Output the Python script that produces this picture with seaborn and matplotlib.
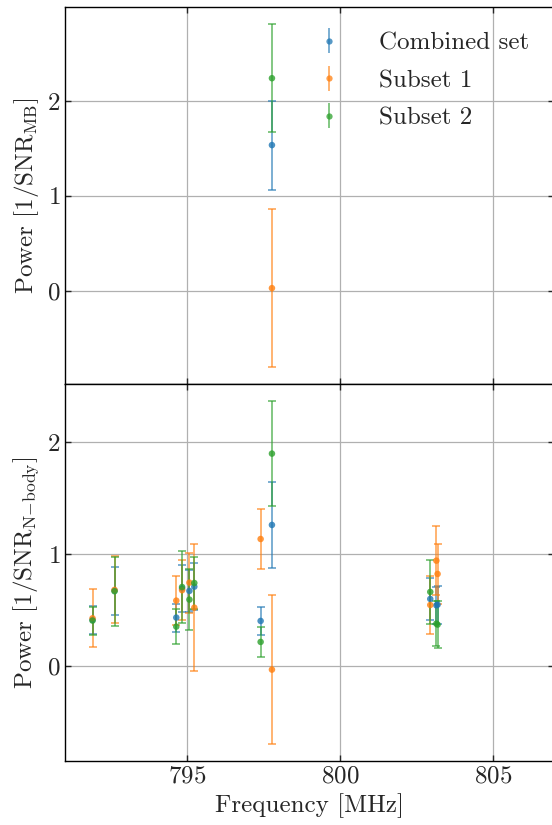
import numpy as np
import pandas as pd
import matplotlib
matplotlib.use("Agg")
import matplotlib.pyplot as plt
import seaborn as sns

# series names and colours
series = ['Combined set', 'Subset 1', 'Subset 2']
colors = sns.color_palette('tab10', 3)

# top panel: MB template (one frequency)
freq_mb = [797.77]
mb_combined = [1.535]
mb_combined_err = [0.47]
mb_sub1 = [0.027]
mb_sub1_err = [0.83]
mb_sub2 = [2.24]
mb_sub2_err = [0.57]

# bottom panel: N-body template
freq_nb = [791.90, 792.62, 794.64, 794.83, 795.07, 795.23, 797.40, 797.77, 802.95, 803.15, 803.19]
nb_combined = [0.41, 0.672, 0.43, 0.69, 0.669, 0.707, 0.40, 1.26, 0.597, 0.540, 0.546]
nb_combined_err = [0.125, 0.215, 0.125, 0.21, 0.19, 0.21, 0.122, 0.384, 0.19, 0.164, 0.17]
nb_sub1 = [0.424, 0.678, 0.582, 0.675, 0.743, 0.519, 1.134, -0.036, 0.543, 0.940, 0.821]
nb_sub1_err = [0.26, 0.30, 0.22, 0.27, 0.27, 0.57, 0.27, 0.665, 0.26, 0.31, 0.27]
nb_sub2 = [0.403, 0.666, 0.349, 0.704, 0.591, 0.740, 0.212, 1.899, 0.660, 0.376, 0.367]
nb_sub2_err = [0.125, 0.31, 0.16, 0.32, 0.27, 0.235, 0.136, 0.47, 0.285, 0.2, 0.21]

sns.set_style("ticks")
plt.rcParams['font.family'] = 'serif'
plt.rcParams['font.serif'] = ['cmr10']
plt.rcParams['mathtext.fontset'] = 'cm'
plt.rcParams['axes.formatter.use_mathtext'] = True
plt.rcParams['axes.unicode_minus'] = False

FS = 18


def draw(ax, freq, vals, errs):
    frames = []
    for name, c, v, e in zip(series, colors, vals, errs):
        ax.errorbar(freq, v, yerr=e, fmt='none', ecolor=c, elinewidth=1.1,
                    capsize=3, capthick=1.1, alpha=0.75, zorder=2)
        frames.append(pd.DataFrame({'freq': freq, 'power': v, 'set': name}))
    df = pd.concat(frames, ignore_index=True)
    sns.scatterplot(data=df, x='freq', y='power', hue='set', palette=colors,
                    s=22, linewidth=0, alpha=0.8, legend=False, ax=ax, zorder=3)


fig, (ax1, ax2) = plt.subplots(2, 1, sharex=True, figsize=(5.52, 8.25), dpi=100)
fig.subplots_adjust(left=0.1178, right=1.0037, top=0.9915, bottom=0.0776, hspace=0)

draw(ax1, freq_mb, [mb_combined, mb_sub1, mb_sub2],
     [mb_combined_err, mb_sub1_err, mb_sub2_err])
draw(ax2, freq_nb, [nb_combined, nb_sub1, nb_sub2],
     [nb_combined_err, nb_sub1_err, nb_sub2_err])

# legend handles
handles = []
for name, c in zip(series, colors):
    h = ax1.errorbar([], [], yerr=[], fmt='o', color=c, ms=4.5, mew=0,
                     elinewidth=1.1, capsize=3, capthick=1.1, alpha=0.75, label=name)
    handles.append(h)
ax1.legend(handles=handles, loc='upper right', frameon=False, fontsize=FS,
           handletextpad=1.0, labelspacing=0.6, borderaxespad=0.6)

ax2.set_xlim(791, 807)
ax2.set_xticks([795, 800, 805])
ax1.set_yticks([0, 1, 2])
ax2.set_yticks([0, 1, 2])

for ax in (ax1, ax2):
    ax.grid(True, color='#b0b0b0', lw=0.9)
    ax.tick_params(direction='in', top=True, right=True, labelsize=FS,
                   length=4, width=1)
    for s in ax.spines.values():
        s.set_linewidth(1.0)
        s.set_color('black')
    ax.set_xlabel('')

ax1.set_ylabel(r'Power [1/SNR$_{\mathrm{MB}}$]', fontsize=FS)
ax2.set_ylabel(r'Power [1/SNR$_{\mathrm{N}{-}\mathrm{body}}$]', fontsize=FS)
ax2.set_xlabel('Frequency [MHz]', fontsize=FS)

fig.savefig('out.png', dpi=100)
